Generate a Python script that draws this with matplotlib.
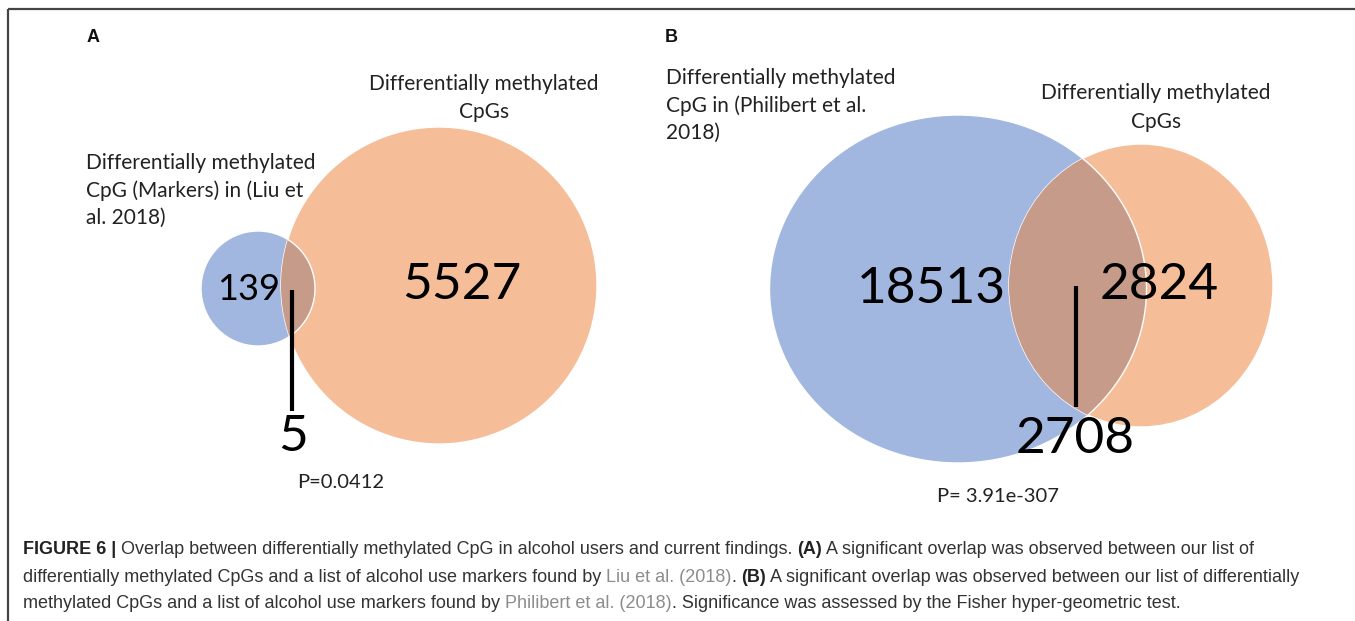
import matplotlib
matplotlib.use('Agg')
import matplotlib.pyplot as plt
from matplotlib.patches import Ellipse, Rectangle

# #### DATA ####
panel_letters = ['A', 'B']
set_labels_a = ['Differentially methylated\nCpG (Markers) in (Liu et\nal. 2018)',
                'Differentially methylated\nCpGs']
set_labels_b = ['Differentially methylated\nCpG in (Philibert et al.\n2018)',
                'Differentially methylated\nCpGs']
counts_a = [139, 5, 5527]      # only left, overlap, only right
counts_b = [18513, 2708, 2824]
p_values = ['P=0.0412', 'P= 3.91e-307']

caption_lines = [
    [('FIGURE 6 | ', 'bold', '#222222'),
     ('Overlap between differentially methylated CpG in alcohol users and current findings. ', 'normal', '#333333'),
     ('(A)', 'bold', '#222222'),
     (' A significant overlap was observed between our list of', 'normal', '#333333')],
    [('differentially methylated CpGs and a list of alcohol use markers found by ', 'normal', '#333333'),
     ('Liu et al. (2018)', 'normal', '#8c8c8c'),
     ('. ', 'normal', '#333333'),
     ('(B)', 'bold', '#222222'),
     (' A significant overlap was observed between our list of differentially', 'normal', '#333333')],
    [('methylated CpGs and a list of alcohol use markers found by ', 'normal', '#333333'),
     ('Philibert et al. (2018)', 'normal', '#8c8c8c'),
     ('. Significance was assessed by the Fisher hyper-geometric test.', 'normal', '#333333')],
]

# #### STYLE ####
blue = '#a1b7e0'
orange = '#f5bd98'
overlap = '#c69b89'
venn_font = ['Lato', 'DejaVu Sans']

W, H = 1355, 621
fig = plt.figure(figsize=(W / 100, H / 100), dpi=100)
ax = fig.add_axes([0, 0, 1, 1])
ax.set_xlim(0, W)
ax.set_ylim(H, 0)
ax.axis('off')

# frame around the figure
ax.add_patch(Rectangle((7.5, 8.5), W + 10, H + 10, fill=False, edgecolor='#444444', lw=1.6))


def label(x, y, text, ha, step):
    # one text per line, so line spacing is under control
    for i, line in enumerate(text.split('\n')):
        ax.text(x, y + i * step, line, fontsize=15, family=venn_font,
                ha=ha, va='center', color='#222222')


def venn(left, right, counts, labels, letter, pval, geo):
    (lx, ly, lw, lh), (rx, ry, rw, rh) = left, right
    e1 = Ellipse((lx, ly), lw, lh, facecolor=blue, edgecolor='white', lw=1.0, zorder=2)
    e2 = Ellipse((rx, ry), rw, rh, facecolor=orange, edgecolor='white', lw=1.0, zorder=3)
    ax.add_patch(e1)
    ax.add_patch(e2)
    lens = Ellipse((lx, ly), lw, lh, facecolor=overlap, edgecolor='white', lw=1.0, zorder=4)
    ax.add_patch(lens)
    lens.set_clip_path(e2)

    ax.text(geo['letter'][0], geo['letter'][1], letter, fontsize=13, fontweight='bold',
            family=['Liberation Sans'], ha='left', va='center', color='#111111')
    label(geo['lab1'][0], geo['lab1'][1], labels[0], 'left', 27.5)
    label(geo['lab2'][0], geo['lab2'][1], labels[1], 'center', 28.5)

    ax.text(geo['c0'][0], geo['c0'][1], str(counts[0]), fontsize=geo['fs0'], family=venn_font,
            ha='center', va='center', color='black', zorder=6)
    ax.text(geo['c2'][0], geo['c2'][1], str(counts[2]), fontsize=37, family=venn_font,
            ha='center', va='center', color='black', zorder=6)
    ax.text(geo['c1'][0], geo['c1'][1], str(counts[1]), fontsize=37, family=venn_font,
            ha='center', va='center', color='black', zorder=6)
    ax.plot([geo['line'][0], geo['line'][0]], [geo['line'][1], geo['line'][2]],
            color='black', lw=3, solid_capstyle='butt', zorder=6)
    ax.text(geo['p'][0], geo['p'][1], pval, fontsize=14.5, family=venn_font,
            ha='center', va='center', color='#222222')


venn((258, 288.5, 114, 115), (439, 285.5, 316, 317), counts_a, set_labels_a, panel_letters[0],
     p_values[0],
     dict(letter=(87, 37), lab1=(86, 163), lab2=(484, 84), c0=(249, 289), fs0=26,
          c1=(293, 437), c2=(462, 285), line=(292, 290, 411), p=(341, 482)))

venn((958, 289, 377, 348), (1141, 285.5, 264, 283), counts_b, set_labels_b, panel_letters[1],
     p_values[1],
     dict(letter=(665, 37), lab1=(666, 78), lab2=(1156, 93), c0=(931, 289), fs0=37,
          c1=(1075, 439), c2=(1159, 285), line=(1076, 286, 407), p=(998, 497)))

# caption, drawn segment by segment so mixed weights/colours line up
fig.canvas.draw()
renderer = fig.canvas.get_renderer()
for i, segs in enumerate(caption_lines):
    x = 23
    y = 550 + i * 27
    for txt, weight, col in segs:
        t = ax.text(x, y, txt, fontsize=13, fontweight=weight, color=col,
                    family=['Liberation Sans'], ha='left', va='center')
        bb = t.get_window_extent(renderer=renderer)
        x += bb.width

fig.savefig('out.png', dpi=100)
